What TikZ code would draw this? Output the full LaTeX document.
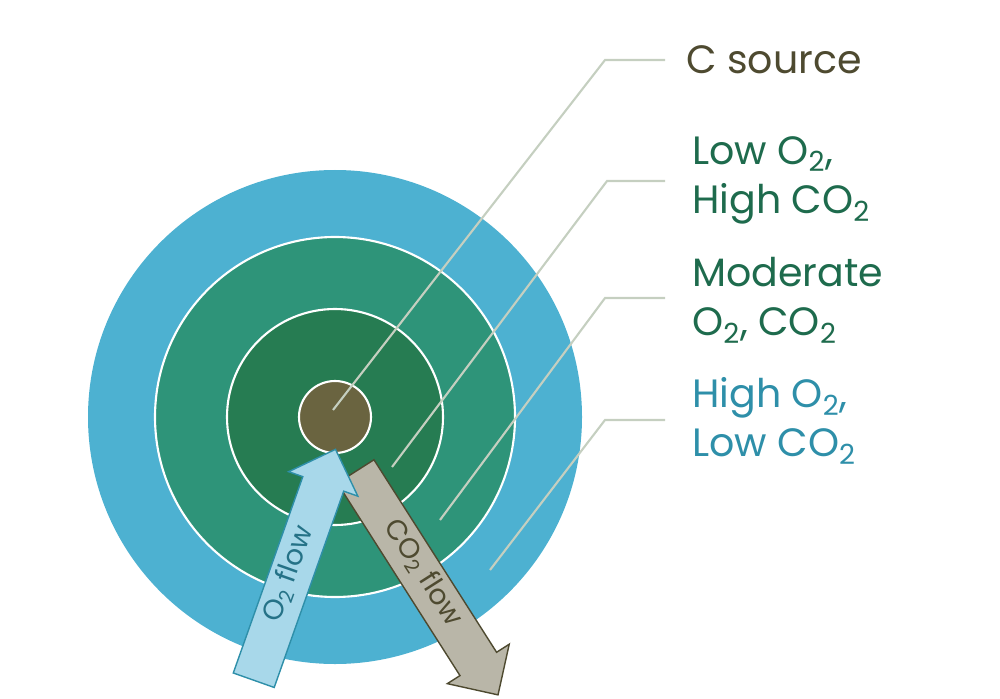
\documentclass[tikz,border=0pt]{standalone}
\usepackage{fontspec}
\setmainfont{Poppins}
\usetikzlibrary{shapes.arrows}
\definecolor{ringout}{HTML}{4DB1D1}
\definecolor{ringmid}{HTML}{2E9479}
\definecolor{ringin}{HTML}{267C52}
\definecolor{core}{HTML}{6A6440}
\definecolor{leader}{HTML}{C5CFC0}
\definecolor{olivetxt}{HTML}{4E4A30}
\definecolor{greentxt}{HTML}{1E6B4D}
\definecolor{bluetxt}{HTML}{2E8FA9}
\definecolor{co2fill}{HTML}{B9B6A8}
\definecolor{o2fill}{HTML}{A8D8EA}
\newcommand{\two}{\textsubscript{2}}
\tikzset{
  ring/.style={draw=white,line width=1.2pt},
  leaderline/.style={draw=leader,line width=1.2pt},
  zone/.style={anchor=west,align=left,font=\fontsize{22.5}{28}\selectfont},
  flow/.style={single arrow,single arrow head extend=0.3cm,inner xsep=2pt,inner ysep=0.21cm,
    font=\fontsize{16}{18}\selectfont,line width=0.8pt,text height=0.32cm,text depth=0.1cm}
}
\begin{document}
\begin{tikzpicture}[x=0.02cm,y=-0.02cm]
\useasboundingbox (0,0) rectangle (1000,699);

% rings
\fill[ringout] (335,417) circle (247);
\filldraw[ring,fill=ringmid] (335,417) circle (180);
\filldraw[ring,fill=ringin] (335,417) circle (108);
\filldraw[ring,fill=core] (335,417) circle (36);

% labels
\node[zone,text=olivetxt] (csrc) at (680,60) {C source};
\node[zone,text=greentxt] (low) at (686,180) {Low O\two,\\High CO\two};
\node[zone,text=greentxt] (mod) at (686,300) {Moderate\\O\two, CO\two};
\node[zone,text=bluetxt] (high) at (686,421) {High O\two,\\Low CO\two};

% leaders
\coordinate (c1) at (333,410);
\coordinate (c2) at (392,467);
\coordinate (c3) at (440,520);
\coordinate (c4) at (490,570);
\draw[leaderline] (c1) -- (605,60) -- (665,60);
\draw[leaderline] (c2) -- (607,181) -- (665,181);
\draw[leaderline] (c3) -- (605,298) -- (665,298);
\draw[leaderline] (c4) -- (605,420) -- (665,420);

% flows
\node[flow,draw=olivetxt,fill=co2fill,text=olivetxt,minimum height=5.3cm,rotate=-57.5] (co2) at (421,574) {CO\two{} flow};
\node[flow,draw=bluetxt,fill=o2fill,text=bluetxt!80!black,minimum height=4.9cm,rotate=70.5] (o2) at (291,575) {O\two{} flow};
\end{tikzpicture}
\end{document}
